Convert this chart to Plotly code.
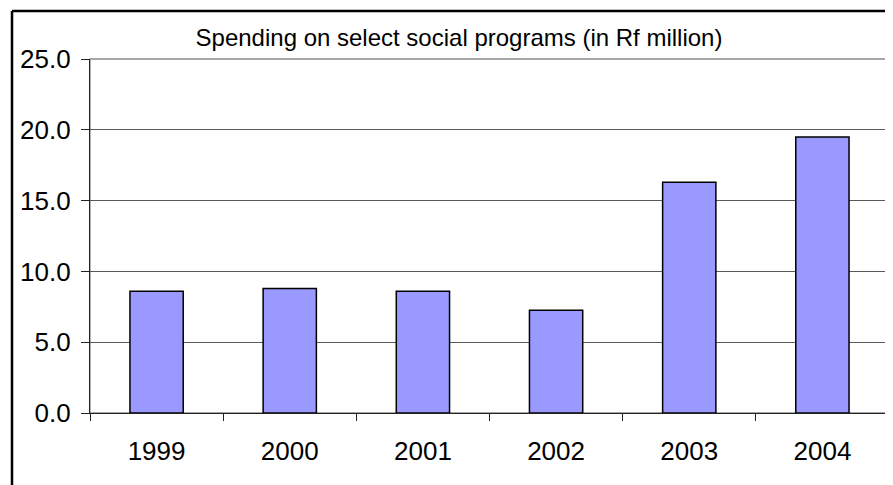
import plotly.graph_objects as go

# data
years = ["1999", "2000", "2001", "2002", "2003", "2004"]
spending = [8.6, 8.8, 8.6, 7.25, 16.3, 19.5]
y_ticks = [0, 5, 10, 15, 20, 25]
y_tick_labels = ["0.0", "5.0", "10.0", "15.0", "20.0", "25.0"]

# the page puts the figure 8px in from the top-left corner
OFF = 8
W, H = 893 - OFF, 485 - OFF
L, R, T, B = 90 - OFF, 4, 59 - OFF, 72
FONT = "Arial, Liberation Sans, sans-serif"


def px_x(px):
    # screen pixel -> paper fraction
    return (px - OFF - L) / (W - L - R)


def px_y(py):
    return (H - B - (py - OFF)) / (H - T - B)


fig = go.Figure()
fig.add_trace(go.Bar(
    x=years,
    y=spending,
    marker=dict(color="#9999FF", line=dict(color="#000000", width=1.5)),
    hoverinfo="x+y",
))

fig.update_layout(
    width=W,
    height=H,
    margin=dict(l=L, r=R, t=T, b=B),
    paper_bgcolor="white",
    plot_bgcolor="white",
    bargap=0.6,
    showlegend=False,
    font=dict(family=FONT, color="#000000"),
    title=dict(
        text="Spending on select social programs (in Rf million)",
        font=dict(size=24, family=FONT, color="#000000"),
        x=(459 - OFF) / W, xanchor="center", xref="container",
        y=1 - (38 - OFF) / H, yanchor="middle", yref="container",
    ),
    xaxis=dict(
        type="category",
        showline=True, linecolor="#222222", linewidth=1.3,
        ticks="outside", tickson="boundaries", ticklen=7,
        tickcolor="#222222", tickwidth=1.3,
        tickfont=dict(size=26, family=FONT, color="#000000"),
        ticklabelstandoff=15,
        showgrid=False,
    ),
    yaxis=dict(
        range=[0, 25],
        tickvals=y_ticks, ticktext=y_tick_labels,
        showline=True, linecolor="#222222", linewidth=1.3,
        ticks="outside", ticklen=8, tickcolor="#222222", tickwidth=1.3,
        tickfont=dict(size=26, family=FONT, color="#000000"),
        ticklabelstandoff=5,
        showgrid=True, gridcolor="#5a5a5a", gridwidth=1,
        zeroline=False,
    ),
    shapes=[
        # plot area frame (top / right)
        dict(type="rect", xref="paper", yref="paper", x0=0, x1=1, y0=0, y1=1,
             line=dict(color="#8a8a8a", width=1.3), layer="below"),
        # outer chart border (clipped by picture edge)
        dict(type="line", xref="paper", yref="paper",
             x0=px_x(12), x1=px_x(900), y0=px_y(11), y1=px_y(11),
             line=dict(color="#000000", width=2.5)),
        dict(type="line", xref="paper", yref="paper",
             x0=px_x(12), x1=px_x(12), y0=px_y(11), y1=px_y(495),
             line=dict(color="#000000", width=2.5)),
    ],
)

fig.write_html("out.html")
